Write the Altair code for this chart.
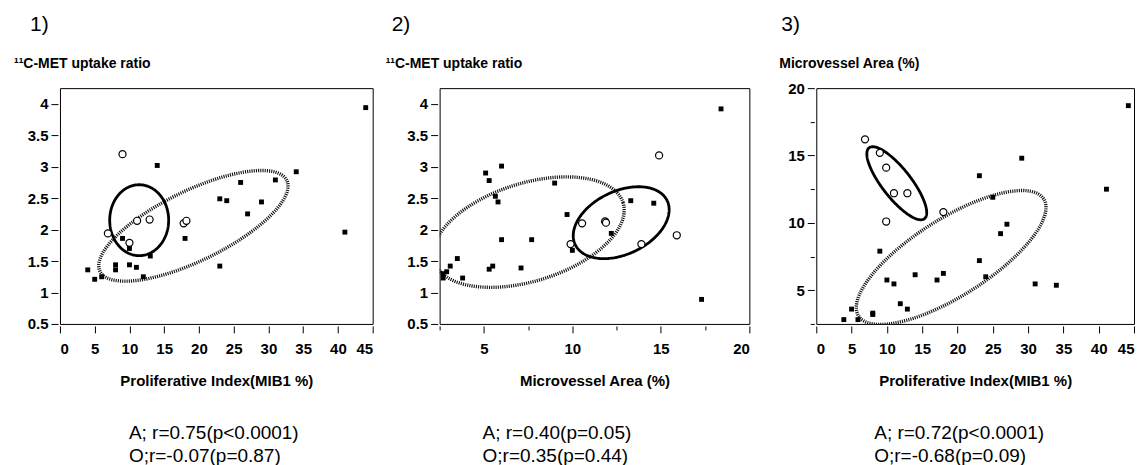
import math
import altair as alt
import pandas as pd

FONT = "Liberation Sans"

# ---------------- Panel 1: MIB1 vs 11C-MET ----------------
p1_a_x = [44, 14, 34, 31, 26, 23, 24, 29, 27, 41, 18, 9, 10, 13, 23, 8, 8, 10, 11, 4, 5, 6, 12]
p1_a_y = [3.94, 3.02, 2.92, 2.79, 2.75, 2.49, 2.46, 2.44, 2.25, 1.96, 1.86, 1.86, 1.70, 1.58,
          1.42, 1.44, 1.36, 1.44, 1.40, 1.36, 1.21, 1.25, 1.25]
p1_o_x = [9.0, 6.9, 10.0, 11.1, 12.9, 17.8, 18.2]
p1_o_y = [3.20, 1.94, 1.79, 2.14, 2.16, 2.10, 2.14]

# ---------------- Panel 2: Microvessel area vs 11C-MET ----------------
p2_a_x = [18.4, 6.0, 5.1, 5.3, 9.0, 5.65, 5.8, 13.3, 14.6, 9.7, 12.2, 6.0, 7.7, 10.0,
          3.5, 3.1, 2.9, 2.7, 2.7, 3.8, 5.5, 5.3, 7.1, 17.3]
p2_a_y = [3.92, 3.01, 2.90, 2.78, 2.74, 2.53, 2.44, 2.46, 2.42, 2.24, 1.94, 1.84, 1.84, 1.67,
          1.54, 1.42, 1.33, 1.30, 1.23, 1.23, 1.42, 1.37, 1.39, 0.89]
p2_o_x = [14.9, 10.55, 11.85, 11.9, 9.9, 13.9, 15.9]
p2_o_y = [3.18, 2.10, 2.13, 2.11, 1.77, 1.77, 1.91]

# ---------------- Panel 3: MIB1 vs Microvessel area ----------------
p3_a_x = [44.2, 41.1, 29.1, 23.1, 25.0, 27.0, 26.1, 23.1, 9.0, 24.0, 14.0, 18.0, 17.1, 10.0,
          11.0, 31.0, 34.0, 11.9, 12.9, 5.0, 8.0, 8.0, 3.9, 5.9]
p3_a_y = [18.7, 12.5, 14.8, 13.5, 11.9, 9.9, 9.2, 7.2, 7.9, 6.0, 6.15, 6.25, 5.76, 5.76,
          5.47, 5.47, 5.37, 4.0, 3.6, 3.6, 3.3, 3.2, 2.82, 2.82]
p3_o_x = [6.9, 9.0, 9.9, 11.0, 12.9, 18.0, 9.9]
p3_o_y = [16.2, 15.2, 14.1, 12.2, 12.2, 10.8, 10.1]

# ellipse outlines: centre (data units), semi-axes (px), rotation (deg)
p1_dotted = (19.2, 2.06, 104, 35, 26)
p1_solid = (11.4, 2.15, 35.5, 29.5, 90)
p2_dotted = (7.53, 1.96, 99, 49, 17.3)
p2_solid = (12.76, 2.11, 51, 31.6, 25.5)
p3_dotted = (19.1, 7.43, 109.6, 38.6, 32.3)
p3_solid = (11.4, 12.94, 45, 14.5, -52)

titles_num = ["1)", "2)", "3)"]
titles_y = ["\u00b9\u00b9C-MET uptake ratio", "\u00b9\u00b9C-MET uptake ratio", "Microvessel Area (%)"]
titles_x = ["Proliferative Index(MIB1 %)", "Microvessel Area (%)", "Proliferative Index(MIB1 %)"]
stats = [
    "A; r=0.75(p<0.0001)\nO;r=-0.07(p=0.87)",
    "A; r=0.40(p=0.05)\nO;r=0.35(p=0.44)",
    "A; r=0.72(p<0.0001)\nO;r=-0.68(p=0.09)",
]

H = 236


def ellipse_df(params, xdom, ydom, w, h, n=200):
    cx, cy, a, b, ang = params
    sx = w / (xdom[1] - xdom[0])
    sy = h / (ydom[1] - ydom[0])
    th = math.radians(ang)
    rows = []
    for i in range(n + 1):
        t = 2 * math.pi * i / n
        px = a * math.cos(t) * math.cos(th) - b * math.sin(t) * math.sin(th)
        py = a * math.cos(t) * math.sin(th) + b * math.sin(t) * math.cos(th)
        rows.append({"x": cx + px / sx, "y": cy + py / sy, "o": i})
    return pd.DataFrame(rows)


def axis(values, title, minor=False, lpad=3):
    kw = dict(
        values=values, title=title, grid=False, domain=False, offset=2,
        format="~g", labelFont=FONT, labelFontSize=15, labelFontWeight="bold",
        labelColor="black", tickColor="black", labelPadding=lpad,
        titleFont=FONT, titleFontSize=15, titleFontWeight="bold", titleColor="black",
        titlePadding=17, labelOverlap=False,
    )
    if minor:
        kw["labelExpr"] = "datum.value % 5 == 0 ? datum.label : ''"
        kw["tickSize"] = {"condition": {"test": "datum.value % 5 != 0", "value": 4}, "value": 7}
    else:
        kw["tickSize"] = 7
    return alt.Axis(**kw)


def panel(i, ax_, ay_, ox_, oy_, xdom, ydom, xvals, yvals, xminor, yminor, w,
          dotted, solid, num_dx, yt_dx, stat_dx):
    X = alt.X("x:Q", scale=alt.Scale(domain=xdom, nice=False, zero=False),
              axis=axis(xvals, titles_x[i], xminor, lpad=9))
    Y = alt.Y("y:Q", scale=alt.Scale(domain=ydom, nice=False, zero=False),
              axis=axis(yvals, None, yminor, lpad=3))

    sq = alt.Chart(pd.DataFrame({"x": ax_, "y": ay_})).mark_square(
        size=24, color="black", opacity=1).encode(x=X, y=Y)
    ci = alt.Chart(pd.DataFrame({"x": ox_, "y": oy_})).mark_point(
        shape="circle", size=50, filled=True, fill="white", stroke="black",
        strokeWidth=1.2, opacity=1).encode(x=X, y=Y)
    ed = alt.Chart(ellipse_df(dotted, xdom, ydom, w, H)).mark_line(
        clip=True, color="#111111", strokeWidth=3.4, strokeDash=[1.1, 1.1]).encode(
        x=X, y=Y, order="o:Q")
    es = alt.Chart(ellipse_df(solid, xdom, ydom, w, H)).mark_line(
        clip=True, color="black", strokeWidth=2.8).encode(x=X, y=Y, order="o:Q")

    tnum = alt.Chart(pd.DataFrame({"t": [titles_num[i]]})).mark_text(
        font=FONT, fontSize=21, align="left", baseline="alphabetic", color="black").encode(
        x=alt.value(num_dx), y=alt.value(-57), text="t:N")
    tyt = alt.Chart(pd.DataFrame({"t": [titles_y[i]]})).mark_text(
        font=FONT, fontSize=14, fontWeight="bold", align="left", baseline="alphabetic",
        color="black").encode(x=alt.value(yt_dx), y=alt.value(-20), text="t:N")
    tst = alt.Chart(pd.DataFrame({"t": [stats[i]]})).mark_text(
        font=FONT, fontSize=19, align="left", baseline="alphabetic", color="black",
        lineBreak="\n", lineHeight=23).encode(
        x=alt.value(stat_dx), y=alt.value(H + 115), text="t:N")

    return alt.layer(ed, es, sq, ci, tnum, tyt, tst).properties(width=w, height=H)


c1 = panel(0, p1_a_x, p1_a_y, p1_o_x, p1_o_y, [0, 45], [0.5, 4.25],
           list(range(0, 50, 5)), [0.5 * k for k in range(1, 9)], False, False, 313,
           p1_dotted, p1_solid, -30, -46, 69)
c2 = panel(1, p2_a_x, p2_a_y, p2_o_x, p2_o_y, [2.5, 20], [0.5, 4.25],
           [2.5 * k for k in range(1, 9)], [0.5 * k for k in range(1, 9)], True, False, 310,
           p2_dotted, p2_solid, -48, -54, 43)
c3 = panel(2, p3_a_x, p3_a_y, p3_o_x, p3_o_y, [0, 45], [2.5, 20],
           list(range(0, 50, 5)), [2.5 * k for k in range(1, 9)], False, True, 318,
           p3_dotted, p3_solid, -35, -37, 58)

chart = alt.hconcat(c1, c2, c3, spacing=67, bounds="flush").configure(
    font=FONT
).configure_view(stroke="black", strokeWidth=1)

chart.save("out.html", embed_options={"renderer": "svg", "actions": False})
